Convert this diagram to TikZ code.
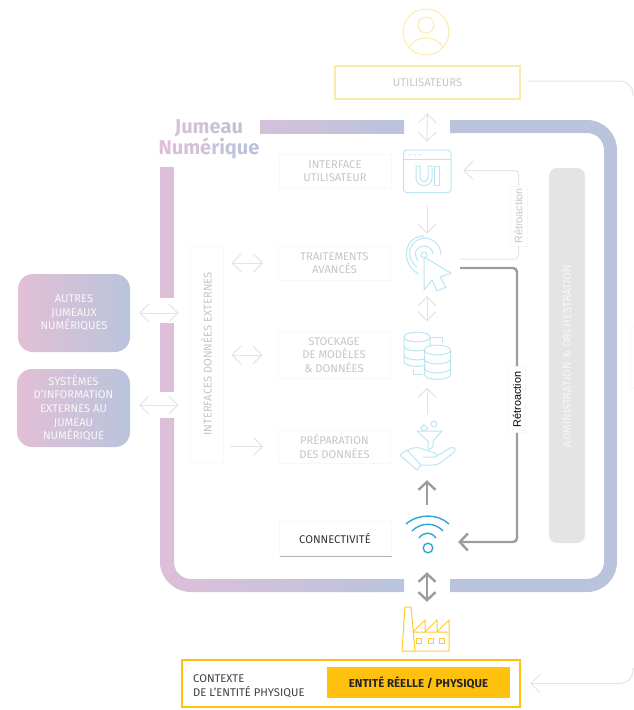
\documentclass[tikz,border=0pt]{standalone}
\usepackage{fontspec}
\setmainfont{Fira Sans}
\newfontfamily\titlefont{Fira Sans}
\newfontfamily\retrofont{Liberation Sans}
\usetikzlibrary{shapes,positioning,arrows.meta,shadows}
\definecolor{framepink}{HTML}{DDBFD9}
\definecolor{frameblue}{HTML}{B9C4DC}
\definecolor{softgrey}{HTML}{E4E4E4}
\definecolor{softedge}{HTML}{F8F8F8}
\definecolor{softtext}{HTML}{C6C6C6}
\definecolor{hardgrey}{HTML}{9C9C9C}
\definecolor{icontint}{HTML}{BCE5F2}
\definecolor{wifiblue}{HTML}{2BA8D4}
\definecolor{paleyellow}{HTML}{FFE8AC}
\definecolor{deepyellow}{HTML}{FFC10E}
\newcommand{\jl}[2]{\textcolor{frameblue!#1!framepink}{#2}}

\begin{document}
\begin{tikzpicture}[
    x=1pt,y=-1pt,
    every node/.style={font=\fontsize{11.2}{13.6}\selectfont,align=center,inner sep=0pt},
    softbox/.style={
        rectangle,
        fill=white,
        draw=softedge,
        line width=.8pt,
        text=softtext,
        minimum width=112,
        minimum height=34,
        drop shadow={shadow xshift=0.6pt,shadow yshift=-1pt,opacity=.025,fill=black},
    },
    pinkbox/.style={
        rectangle,
        rounded corners=15pt,
        left color=framepink!85!pink,
        right color=frameblue,
        text=white!88!softtext,
        minimum width=112,
    },
    slot/.style={rectangle,minimum width=#1},
    softline/.style={draw=softgrey,line width=1pt},
    softone/.style={softline,-{Straight Barb[length=9pt,width=18pt]}},
    softboth/.style={softline,{Straight Barb[length=9pt,width=18pt]}-{Straight Barb[length=9pt,width=18pt]}},
    hardone/.style={draw=hardgrey,line width=2.4pt,-{Straight Barb[length=8pt,width=17pt]}},
    hardboth/.style={draw=hardgrey,line width=2.4pt,{Straight Barb[length=8pt,width=17pt]}-{Straight Barb[length=8pt,width=17pt]}},
    icon/.style={draw=icontint,line width=1pt,line join=round,fill=none},
    tag/.style={
        rectangle,
        fill=white,
        draw=softedge,
        line width=.8pt,
        rotate=90,
        font=\retrofont\fontsize{10.8}{12}\selectfont,
        minimum width=#1,
        minimum height=17,
    },
    ]
    \useasboundingbox (0,0) rectangle (633,710);

    % frame
    \fill[framepink] (160,167) rectangle (174,298);
    \fill[framepink] (160,323) rectangle (174,392);
    \shade[left color=framepink,right color=frameblue]
        (160,418) -- (160,562) .. controls (160,578.6) and (174.4,592) .. (191,592)
        -- (404,592) -- (404,579) -- (191,579) .. controls (181.6,579) and (174,571.4) .. (174,562)
        -- (174,418) -- cycle;
    \shade[left color=framepink!80!frameblue,right color=frameblue] (260,120) rectangle (404,133);
    \fill[frameblue] (450,120) -- (587,120) .. controls (603.6,120) and (617,133.4) .. (617,150)
        -- (617,562) .. controls (617,578.6) and (603.6,592) .. (587,592)
        -- (450,592) -- (450,579) -- (587,579) .. controls (596.4,579) and (604,571.4) .. (604,562)
        -- (604,150) .. controls (604,140.6) and (596.4,133) .. (587,133) -- (450,133) -- cycle;
    \node[font=\titlefont\bfseries\fontsize{20}{20.5}\selectfont] (jumeau) at (209,139.5)
        {\jl{10}{J}\jl{25}{u}\jl{40}{m}\jl{55}{e}\jl{75}{a}\jl{90}{u}\\
         \jl{0}{N}\jl{12}{u}\jl{25}{m}\jl{37}{é}\jl{50}{r}\jl{62}{i}\jl{75}{q}\jl{87}{u}\jl{100}{e}};

    % boxes
    \node[softbox,draw=paleyellow,line width=2.6pt,minimum width=185,minimum height=33] (users) at (427.5,82.5) {UTILISATEURS};
    \node[softbox] (interface) at (335,171) {INTERFACE\\UTILISATEUR};
    \node[softbox] (traitements) at (334.5,263) {TRAITEMENTS\\AVANCÉS};
    \node[softbox,minimum height=46] (stockage) at (334,355) {STOCKAGE\\DE MODÈLES\\\& DONNÉES};
    \node[softbox,minimum height=33] (preparation) at (334.5,446.5) {PRÉPARATION\\DES DONNÉES};
    \node[softbox,text=black!80,draw=softedge,minimum height=34,
        drop shadow={shadow xshift=0.6pt,shadow yshift=-1.5pt,opacity=.3,fill=black}] (connectivite) at (335,538) {CONNECTIVITÉ};
    \node[softbox,minimum width=33,minimum height=216] (externes) at (206.5,354) {};
    \node[rotate=90,text=softtext] (externestext) at (206.5,354) {INTERFACES DONNÉES EXTERNES};
    \node[softbox,minimum width=6,minimum height=61,anchor=west] (horscadre) at (630,357) {};
    \node[pinkbox,minimum height=78] (autres) at (74,313) {AUTRES\\JUMEAUX\\NUMÉRIQUES};
    \node[pinkbox,minimum width=113,minimum height=78] (systemes) at (73.5,408) {SYSTÈMES\\D'INFORMATION\\EXTERNES AU\\JUMEAU\\NUMÉRIQUE};
    \node[fill=softgrey,rounded corners=8pt,minimum width=36,minimum height=375] (admin) at (567,355.5) {};
    \node[rotate=90,text=white!70!softgrey] (admintext) at (567,356) {ADMINISTRATION \& ORCHESTRATION};
    \node[rectangle,draw=deepyellow,fill=white,line width=2.6pt,minimum width=338,minimum height=47] (contexte) at (351,683.5) {};
    \node[anchor=west,align=left,text=black!75] (contextetext) at (193,686) {CONTEXTE\\DE L'ENTITÉ PHYSIQUE};
    \node[rectangle,fill=deepyellow,text=black!85,minimum width=186,minimum height=33,font=\bfseries\fontsize{11.5}{12}\selectfont,
        draw=white,line width=2.5pt,
        drop shadow={shadow xshift=0.6pt,shadow yshift=-1.2pt,opacity=.2,fill=black}] (entite) at (418.5,682.5) {ENTITÉ RÉELLE / PHYSIQUE};

    % icon places
    \node[slot=72,minimum height=45] (ui) at (427,170.5) {};
    \node[slot=66,minimum height=60] (cible) at (427,262) {};
    \node[slot=50,minimum height=48] (base) at (427,355.5) {};
    \node[slot=58,minimum height=58] (entonnoir) at (427,443) {};
    \node[slot=62,minimum height=50] (wifi) at (427,542) {};
    \node[slot=50,minimum height=46] (usine) at (427,629) {};

    % user
    \draw[draw=paleyellow,line width=1pt] (426,32) circle (23);
    \draw[draw=paleyellow,line width=1pt] (426,25) circle (8);
    \draw[draw=paleyellow,line width=1pt] (409,48) .. controls (412,41) and (419,38) .. (426,38) .. controls (433,38) and (440,41) .. (443,48);

    % ui
    \draw[icon,rounded corners=3pt] (403.5,150) rectangle (451,192.5);
    \draw[icon] (403.5,159) -- (451,159);
    \foreach \dotx in {410,415,420} {\fill[icontint] (\dotx,155) circle (0.8);}
    \draw[icon] (416,166) -- (416,178) .. controls (416,188) and (432,188) .. (432,178) -- (432,166) -- (428,166) -- (428,178)
        .. controls (428,182.5) and (420,182.5) .. (420,178) -- (420,166) -- cycle;
    \draw[icon] (434,166) rectangle (439.5,185);

    % target
    \draw[icon] (424,255) circle (3);
    \draw[icon] (418,261) .. controls (411,250) and (420,246) .. (424,246) .. controls (429,246) and (433,250) .. (433,254);
    \draw[icon] (417,267) .. controls (405,258) and (408,240) .. (424,238) .. controls (433,238) and (441,245) .. (441,255);
    \draw[icon] (419,274) .. controls (401,266) and (402,236) .. (424,236);
    \draw[icon,fill=white] (424,257) -- (451,273) -- (440,277) -- (446,287) -- (437,291) -- (432,280) -- (424,290) -- cycle;

    % base
    \foreach \basex/\basey in {417/337,437.5/350} {
        \draw[icon,fill=white] (\basex-13,\basey) -- (\basex-13,\basey+24.5)
            .. controls (\basex-13,\basey+31) and (\basex+13,\basey+31) .. (\basex+13,\basey+24.5) -- (\basex+13,\basey)
            .. controls (\basex+13,\basey-6.5) and (\basex-13,\basey-6.5) .. (\basex-13,\basey) -- cycle;
        \draw[icon] (\basex-13,\basey) .. controls (\basex-13,\basey+6.5) and (\basex+13,\basey+6.5) .. (\basex+13,\basey);
        \foreach \bandy in {9,18} {
            \draw[icon] (\basex-13,\basey+\bandy) .. controls (\basex-13,\basey+\bandy+6.5) and (\basex+13,\basey+\bandy+6.5) .. (\basex+13,\basey+\bandy);
            \draw[icon,line width=.6pt,dotted] (\basex-9,\basey+\bandy+1) -- (\basex-5,\basey+\bandy+1.6);
        }
    }
    \draw[icon] (431,337) -- (442,337) -- (442,343);
    \draw[icon] (413,369) -- (413,374) -- (423,374);

    % funnel and hand
    \draw[icon] (434,424) circle (3);
    \draw[icon] (424,424.5) -- (428,428.5) -- (424,431) -- (420.5,428.5) -- cycle;
    \draw[icon] (417,431) -- (442,431) -- (433,441) -- (433,447) -- (428,450) -- (428,441) -- cycle;
    \draw[icon] (400,455) -- (407,450) -- (421,465) -- (417,470) -- cycle;
    \draw[icon] (407,451) .. controls (414,446) and (419,447) .. (425,450) -- (434,452.5) .. controls (438,454) and (438,457) .. (434,457) -- (423,457);
    \draw[icon] (437,456) -- (450,448) .. controls (455,446) and (457,450) .. (453,453) -- (440,463) .. controls (437,465) and (434,465) .. (432,465) -- (421,465);

    % wifi
    \draw[draw=wifiblue,line width=1.4pt] (428,548) circle (4.8);
    \draw[draw=wifiblue,line width=1.4pt] (406,524) .. controls (418,513.5) and (438,513.5) .. (449,524);
    \draw[draw=wifiblue,line width=1.4pt] (412,531) .. controls (421,522) and (435,522) .. (443,531);
    \draw[draw=wifiblue,line width=1.4pt] (419,538) .. controls (424,531.5) and (431,531.5) .. (436,538);

    % factory
    \draw[draw=deepyellow!85!white,line width=1pt,line join=round]
        (402,651) -- (405,607) -- (411,607) -- (415,651) -- cycle
        (413,632) -- (425,620) -- (425,632) -- (437,620) -- (437,632) -- (449,620) -- (449,651) -- (415,651)
        (413,632) -- (449,632);
    \foreach \winx in {419,431,442} {\draw[draw=deepyellow!85!white,line width=1pt] (\winx-2.5,638.5) rectangle (\winx+2.5,643.5);}

    % feedback
    \node[tag=66,text=black] (retrofort) at (517,399.5) {Rétroaction};
    \node[tag=60,text=softtext] (retroclair) at (518.5,216) {Rétroaction};
    \coordinate (departfort) at (460,268);
    \coordinate (departclair) at (460,259);
    \coordinate (sortiehaut) at (528,81);
    \coordinate (bordhaut) at (633,96);
    \coordinate (bordbas) at (633,668);

    \draw[softline,rounded corners=4pt] (departclair) -| (retroclair);
    \draw[softone,rounded corners=4pt] (retroclair) |- (ui);
    \draw[draw=hardgrey,line width=2.4pt,rounded corners=4pt] (departfort) -| (retrofort);
    \draw[hardone,rounded corners=4pt] (retrofort) |- (wifi);
    \draw[softline,rounded corners=13pt] (sortiehaut) -| (bordhaut);
    \draw[softone,rounded corners=13pt,shorten >=9pt] (bordbas) |- (contexte.east);

    % links
    \draw[softboth,shorten <=13pt,shorten >=6pt] (users.south) -- (ui.north);
    \draw[softone,shorten <=12pt,shorten >=-2pt] (ui.south) -- (cible.north);
    \draw[softboth,shorten <=4pt,shorten >=10pt] (cible.south) -- (base.north);
    \draw[softone,shorten >=8pt] (entonnoir.north) -- (base.south);
    \draw[hardone,shorten <=12pt,shorten >=8pt] (wifi.north) -- (entonnoir.south);
    \draw[hardboth,shorten <=5pt,shorten >=4pt] (wifi.south) -- (usine.north);
    \draw[softboth,shorten <=9pt,shorten >=11pt] (autres.east) -- (autres.east -| externes.west);
    \draw[softboth,shorten <=9pt,shorten >=11pt] (systemes.east |- 0,405) -- (externes.west |- 0,405);
    \draw[softboth,shorten <=8pt,shorten >=15pt] (externes.east |- traitements) -- (traitements.west);
    \draw[softboth,shorten <=8pt,shorten >=15pt] (externes.east |- stockage) -- (stockage.west);
    \draw[softone,shorten <=7pt,shorten >=15pt] (externes.east |- preparation) -- (preparation.west);
\end{tikzpicture}
\end{document}
